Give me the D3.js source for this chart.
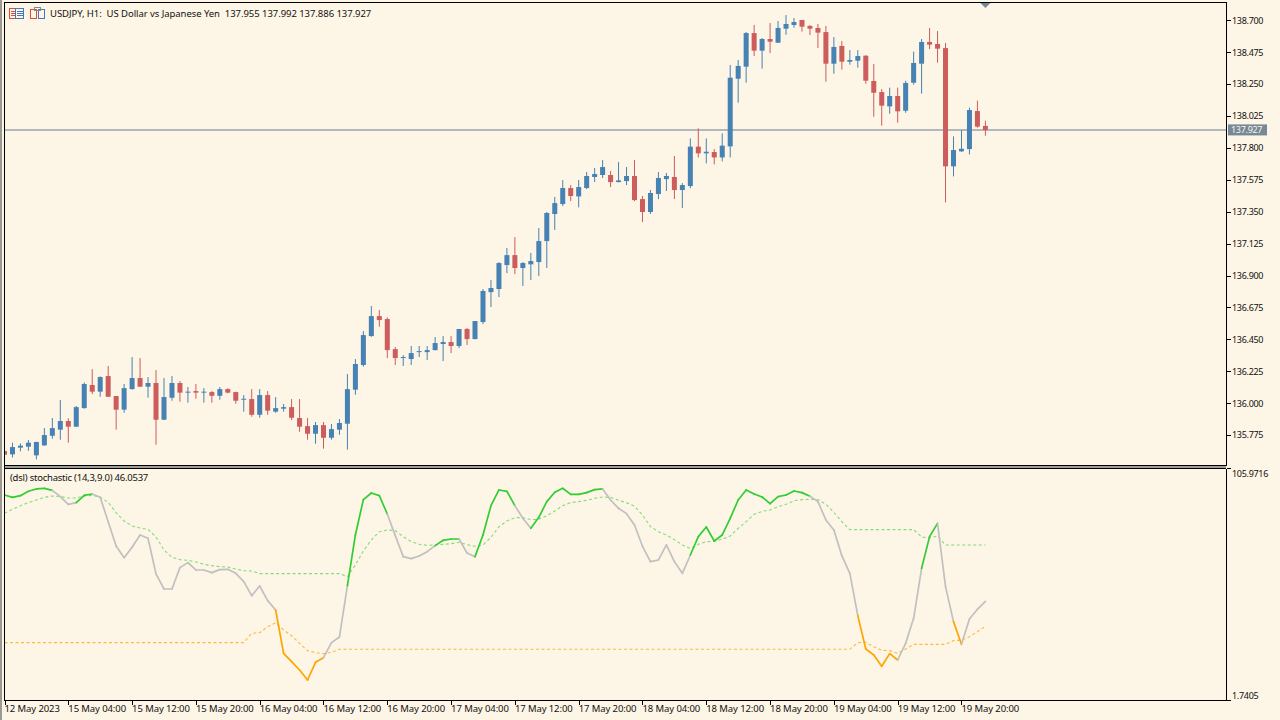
<!DOCTYPE html>
<html>
<head>
<meta charset="utf-8">
<title>USDJPY H1</title>
<script src="https://cdn.jsdelivr.net/npm/d3@7"></script>
<style>
    html, body { margin: 0; padding: 0; background: #fdf5e6; overflow: hidden; }
    text { font-family: "Noto Sans", sans-serif; font-size: 9.5px; fill: #111; white-space: pre; }
    .axis text, .tag { font-size: 9px; letter-spacing: -0.3px; }
    .axis path, .axis line { stroke: #000; shape-rendering: crispEdges; }
</style>
</head>
<body>
<script>
//candle values, one entry per hour bar
var opens = [
    135.662, 135.639, 135.686, 135.693, 135.632, 135.702, 135.770, 135.813, 135.874, 135.834,
    135.965, 136.128, 136.081, 136.191, 136.050, 135.954, 136.099, 136.177, 136.116, 136.142,
    135.883, 136.038, 136.142, 136.074, 136.085, 136.074, 136.078, 136.052, 136.099, 136.078,
    136.024, 136.029, 135.918, 136.057, 135.940, 135.961, 135.972, 135.895, 135.838, 135.784,
    135.845, 135.756, 135.813, 135.855, 136.095, 136.269, 136.473, 136.614, 136.593, 136.381,
    136.320, 136.311, 136.360, 136.360, 136.374, 136.417, 136.431, 136.403, 136.523, 136.452,
    136.572, 136.783, 136.805, 136.974, 137.044, 136.953, 136.979, 136.995, 137.143, 137.334,
    137.404, 137.517, 137.458, 137.517, 137.595, 137.609, 137.609, 137.559, 137.566, 137.602,
    137.439, 137.348, 137.475, 137.580, 137.595, 137.503, 137.531, 137.809, 137.762, 137.771,
    137.733, 137.811, 138.288, 138.373, 138.610, 138.486, 138.568, 138.542, 138.641, 138.667,
    138.702, 138.660, 138.646, 138.617, 138.394, 138.519, 138.408, 138.415, 138.450, 138.272,
    138.194, 138.093, 138.166, 138.062, 138.260, 138.394, 138.547, 138.533, 138.504, 137.670,
    137.776, 137.792, 138.060, 137.955
];
var highs = [
    135.665, 135.721, 135.716, 135.740, 135.728, 135.824, 135.895, 136.022, 135.893, 135.980,
    136.146, 136.240, 136.189, 136.262, 136.050, 136.135, 136.325, 136.318, 136.184, 136.233,
    136.177, 136.191, 136.156, 136.114, 136.135, 136.106, 136.085, 136.114, 136.106, 136.081,
    136.057, 136.099, 136.099, 136.085, 136.043, 135.994, 136.029, 136.029, 135.895, 135.867,
    135.867, 135.853, 135.888, 136.205, 136.311, 136.508, 136.685, 136.657, 136.605, 136.396,
    136.339, 136.403, 136.403, 136.403, 136.466, 136.473, 136.473, 136.523, 136.530, 136.579,
    136.805, 136.868, 136.995, 137.094, 137.171, 136.995, 137.059, 137.235, 137.348, 137.454,
    137.573, 137.538, 137.573, 137.630, 137.658, 137.714, 137.637, 137.700, 137.665, 137.714,
    137.461, 137.503, 137.630, 137.623, 137.743, 137.552, 137.867, 137.938, 137.867, 137.792,
    137.903, 138.385, 138.420, 138.617, 138.667, 138.575, 138.681, 138.695, 138.737, 138.716,
    138.702, 138.667, 138.674, 138.660, 138.582, 138.554, 138.490, 138.490, 138.455, 138.392,
    138.215, 138.225, 138.225, 138.274, 138.479, 138.568, 138.646, 138.624, 138.540, 137.881,
    137.926, 138.084, 138.133, 137.992
];
var lows = [
    135.630, 135.617, 135.660, 135.664, 135.603, 135.700, 135.749, 135.742, 135.721, 135.832,
    135.961, 136.064, 136.045, 136.043, 135.813, 135.932, 136.095, 136.114, 136.038, 135.707,
    135.881, 136.017, 136.010, 136.003, 136.031, 136.003, 136.003, 136.024, 136.069, 135.996,
    135.940, 135.904, 135.897, 135.918, 135.932, 135.940, 135.881, 135.798, 135.742, 135.714,
    135.679, 135.742, 135.777, 135.672, 136.059, 136.257, 136.468, 136.539, 136.318, 136.269,
    136.262, 136.269, 136.325, 136.304, 136.372, 136.297, 136.353, 136.388, 136.410, 136.450,
    136.558, 136.678, 136.748, 136.917, 136.910, 136.826, 136.868, 136.896, 136.953, 137.221,
    137.390, 137.425, 137.381, 137.510, 137.559, 137.588, 137.524, 137.557, 137.538, 137.425,
    137.277, 137.334, 137.439, 137.496, 137.439, 137.376, 137.515, 137.733, 137.691, 137.684,
    137.705, 137.733, 138.119, 138.260, 138.448, 138.359, 138.469, 138.540, 138.598, 138.648,
    138.620, 138.596, 138.504, 138.267, 138.323, 138.352, 138.387, 138.366, 138.253, 138.020,
    137.957, 138.041, 137.978, 138.048, 138.246, 138.182, 138.497, 138.401, 137.416, 137.599,
    137.771, 137.754, 137.943, 137.886
];
var closes = [
    135.636, 135.690, 135.700, 135.721, 135.726, 135.775, 135.824, 135.874, 135.834, 135.972,
    136.135, 136.081, 136.184, 136.045, 135.954, 136.106, 136.177, 136.116, 136.142, 135.883,
    136.043, 136.142, 136.074, 136.081, 136.074, 136.081, 136.052, 136.099, 136.074, 136.017,
    136.031, 135.918, 136.057, 135.947, 135.965, 135.972, 135.897, 135.834, 135.784, 135.845,
    135.756, 135.817, 135.860, 136.099, 136.276, 136.480, 136.614, 136.586, 136.374, 136.318,
    136.325, 136.353, 136.367, 136.374, 136.424, 136.431, 136.403, 136.523, 136.452, 136.579,
    136.791, 136.812, 136.988, 137.044, 136.953, 136.988, 137.002, 137.143, 137.341, 137.411,
    137.517, 137.461, 137.524, 137.602, 137.616, 137.665, 137.559, 137.571, 137.602, 137.432,
    137.348, 137.482, 137.588, 137.602, 137.503, 137.538, 137.809, 137.762, 137.773, 137.733,
    137.816, 138.295, 138.378, 138.610, 138.486, 138.568, 138.549, 138.646, 138.674, 138.688,
    138.655, 138.641, 138.613, 138.394, 138.512, 138.408, 138.420, 138.448, 138.274, 138.189,
    138.098, 138.166, 138.058, 138.258, 138.399, 138.547, 138.528, 138.500, 137.670, 137.785,
    137.794, 138.067, 137.950, 137.927
];

//stochastic line and its two discontinued signal levels
var stochMain = [
    93.85, 92.80, 93.55, 95.50, 96.55, 96.85, 95.95, 93.10, 89.66, 90.41,
    93.70, 94.30, 92.80, 81.87, 70.94, 65.69, 70.34, 75.88, 74.38, 58.36,
    51.62, 51.62, 61.20, 63.45, 60.15, 60.15, 58.95, 60.30, 60.45, 58.65,
    54.91, 48.62, 52.96, 46.37, 42.18, 22.71, 18.97, 15.22, 10.73, 18.67,
    20.76, 27.50, 30.05, 53.11, 75.88, 91.75, 94.75, 93.55, 85.31, 75.58,
    66.14, 65.24, 66.44, 68.39, 71.09, 73.48, 74.08, 74.08, 67.79, 66.14,
    75.88, 89.06, 96.10, 95.50, 89.06, 83.37, 78.87, 83.82, 90.86, 95.05,
    96.85, 94.15, 94.15, 94.90, 96.25, 96.55, 91.60, 87.86, 85.46, 80.37,
    70.79, 63.90, 64.65, 71.39, 63.90, 58.65, 66.89, 75.13, 79.47, 73.18,
    75.88, 83.37, 91.60, 96.10, 94.30, 92.95, 89.96, 93.10, 93.85, 95.65,
    94.90, 93.25, 90.86, 82.62, 78.12, 66.59, 58.65, 39.63, 24.66, 21.96,
    16.87, 22.56, 19.71, 27.20, 38.44, 60.90, 75.13, 81.12, 52.66, 36.94,
    26.75, 38.14, 42.48, 46.05
];
var levelUp = [
    85.61, 87.41, 89.06, 90.41, 91.60, 92.80, 93.40, 93.10, 92.50, 92.50,
    93.40, 93.70, 92.80, 90.56, 85.91, 82.17, 79.92, 79.02, 78.42, 74.98,
    69.14, 65.84, 64.80, 64.50, 63.75, 62.70, 62.10, 61.65, 61.50, 60.60,
    59.85, 59.70, 58.50, 58.50, 58.50, 58.50, 58.50, 58.50, 58.50, 58.50,
    58.50, 58.50, 58.50, 57.16, 62.40, 68.69, 73.63, 77.38, 78.12, 77.83,
    75.13, 72.88, 71.68, 71.24, 71.39, 71.68, 71.98, 72.58, 71.53, 70.79,
    71.39, 74.83, 79.62, 82.17, 83.67, 83.67, 82.77, 82.92, 84.56, 86.66,
    89.06, 90.41, 90.86, 91.45, 92.35, 92.95, 92.80, 91.45, 90.41, 88.76,
    84.86, 79.62, 77.38, 75.88, 73.78, 71.39, 69.89, 71.68, 72.88, 73.03,
    73.93, 75.43, 78.87, 81.87, 85.16, 86.51, 87.11, 88.61, 89.66, 91.30,
    91.75, 91.90, 91.75, 89.66, 86.06, 81.87, 78.27, 78.27, 78.27, 78.27,
    78.27, 78.27, 78.27, 78.27, 78.27, 74.98, 74.53, 75.43, 71.39, 71.39,
    71.39, 71.39, 71.39, 71.39
];
var levelDown = [
    27.50, 27.50, 27.50, 27.50, 27.50, 27.50, 27.50, 27.50, 27.50, 27.50,
    27.50, 27.50, 27.50, 27.50, 27.50, 27.50, 27.50, 27.50, 27.50, 27.50,
    27.50, 27.50, 27.50, 27.50, 27.50, 27.50, 27.50, 27.50, 27.50, 27.50,
    27.50, 31.70, 32.00, 34.69, 36.34, 33.19, 30.65, 27.20, 23.91, 23.01,
    22.56, 23.16, 24.51, 24.51, 24.51, 24.51, 24.51, 24.51, 24.51, 24.51,
    24.51, 24.51, 24.51, 24.51, 24.51, 24.51, 24.51, 24.51, 24.51, 24.51,
    24.51, 24.51, 24.51, 24.51, 24.51, 24.51, 24.51, 24.51, 24.51, 24.51,
    24.51, 24.51, 24.51, 24.51, 24.51, 24.51, 24.51, 24.51, 24.51, 24.51,
    24.51, 24.51, 24.51, 24.51, 24.51, 24.51, 24.51, 24.51, 24.51, 24.51,
    24.51, 24.51, 24.51, 24.51, 24.51, 24.51, 24.51, 24.51, 24.51, 24.51,
    24.51, 24.51, 24.51, 24.51, 24.51, 24.51, 24.51, 27.50, 27.65, 25.71,
    24.06, 23.91, 22.71, 24.66, 26.75, 26.75, 26.75, 26.75, 26.75, 28.40,
    28.70, 30.20, 32.44, 34.84
];

//axis labels
var priceTicks = [138.700, 138.475, 138.250, 138.025, 137.800, 137.575, 137.350, 137.125, 136.900, 136.675, 136.450, 136.225, 136.000, 135.775];
var stochTicks = [105.9716, 1.7405];
var timeIndex = [0, 8, 16, 24, 32, 40, 48, 56, 64, 72, 80, 88, 96, 104, 112, 120];
var timeLabels = [
    "12 May 2023", "15 May 04:00", "15 May 12:00", "15 May 20:00", "16 May 04:00", "16 May 12:00", "16 May 20:00", "17 May 04:00",
    "17 May 12:00", "17 May 20:00", "18 May 04:00", "18 May 12:00", "18 May 20:00", "19 May 04:00", "19 May 12:00", "19 May 20:00"
];
var lastPrice = 137.927;
var chartTitle = "USDJPY, H1:  US Dollar vs Japanese Yen  137.955 137.992 137.886 137.927";
var stochTitle = "(dsl) stochastic (14,3,9.0) 46.0537";

var width = 1280, height = 720;
var left = 4, right = 1226;
var upColor = "#4682b4", downColor = "#cd5c5c";

var svg = d3.select("body").append("svg")
    .attr("width", width)
    .attr("height", height)
    .style("display", "block");

svg.append("rect").attr("width", width).attr("height", height).attr("fill", "#fdf5e6");

//clip marks to each pane
var defs = svg.append("defs");
defs.append("clipPath").attr("id", "topClip").append("rect")
    .attr("x", left + 0.5).attr("y", 3).attr("width", right - left).attr("height", 462);
defs.append("clipPath").attr("id", "botClip").append("rect")
    .attr("x", left + 0.5).attr("y", 469).attr("width", right - left).attr("height", 231);

//scales
var x = d3.scaleLinear().domain([0, 123]).range([4.5, 985.4]);
var yPrice = d3.scaleLinear().domain([135.775, 138.700]).range([435.05, 20.3]);
var yStoch = d3.scaleLinear().domain([1.7405, 105.9716]).range([700, 468]);

var candles = d3.range(opens.length).map(function(i) {
    return { i: i, o: opens[i], h: highs[i], l: lows[i], c: closes[i] };
});

//last price line
var topPane = svg.append("g").attr("clip-path", "url(#topClip)");

topPane.append("line")
    .attr("x1", left).attr("x2", right)
    .attr("y1", yPrice(lastPrice)).attr("y2", yPrice(lastPrice))
    .attr("stroke", "#9aa3ad")
    .attr("stroke-width", 1.5);

//candle wicks
topPane.selectAll(".wick")
    .data(candles)
    .enter()
    .append("line")
    .attr("class", "wick")
    .attr("x1", function(d) { return x(d.i); })
    .attr("x2", function(d) { return x(d.i); })
    .attr("y1", function(d) { return yPrice(d.h); })
    .attr("y2", function(d) { return yPrice(d.l); })
    .attr("stroke", function(d) { return d.c >= d.o ? upColor : downColor; })
    .attr("stroke-width", 1);

//candle bodies
topPane.selectAll(".body")
    .data(candles)
    .enter()
    .append("rect")
    .attr("class", "body")
    .attr("x", function(d) { return x(d.i) - 2.5; })
    .attr("width", 5)
    .attr("y", function(d) { return yPrice(Math.max(d.o, d.c)); })
    .attr("height", function(d) { return Math.max(1, Math.abs(yPrice(d.o) - yPrice(d.c))); })
    .attr("fill", function(d) { return d.c >= d.o ? upColor : downColor; });

//stochastic pane
var botPane = svg.append("g").attr("clip-path", "url(#botClip)");

var line = d3.line()
    .x(function(d) { return x(d.i); })
    .y(function(d) { return yStoch(d.v); });

function series(values) {
    return values.map(function(v, i) { return { i: i, v: v }; });
}

botPane.append("path")
    .datum(series(levelUp))
    .attr("d", line)
    .attr("fill", "none")
    .attr("stroke", "#32cd32")
    .attr("stroke-opacity", 0.6)
    .attr("stroke-width", 1.1)
    .attr("stroke-dasharray", "3,2.5");

botPane.append("path")
    .datum(series(levelDown))
    .attr("d", line)
    .attr("fill", "none")
    .attr("stroke", "#ffa500")
    .attr("stroke-opacity", 0.75)
    .attr("stroke-width", 1.1)
    .attr("stroke-dasharray", "3,2.5");

//main line, each segment takes the colour of the state at its end
function stateColor(i) {
    if (stochMain[i] > levelUp[i]) return "#32cd32";
    if (stochMain[i] < levelDown[i]) return "#ffa500";
    return "#c0c0c0";
}

botPane.selectAll(".segment")
    .data(d3.range(1, stochMain.length))
    .enter()
    .append("path")
    .attr("class", "segment")
    .attr("d", function(i) {
        return line([{ i: i - 1, v: stochMain[i - 1] }, { i: i, v: stochMain[i] }]);
    })
    .attr("fill", "none")
    .attr("stroke", stateColor)
    .attr("stroke-linecap", "round")
    .attr("stroke-width", 1.7);

//pane borders, grey window edges first
svg.append("rect").attr("x", 0).attr("y", 0).attr("width", 2).attr("height", height).attr("fill", "#9c9a94");
svg.append("rect").attr("x", 4).attr("y", 466).attr("width", right - 4).attr("height", 2).attr("fill", "#a09e98");

var border = svg.append("g").attr("stroke", "#000").attr("fill", "none").style("shape-rendering", "crispEdges");
border.append("path").attr("d", d3.line()([[right + 0.5, 2.5], [left + 0.5, 2.5], [left + 0.5, 700.5], [right + 0.5, 700.5]]));
border.append("line").attr("x1", left).attr("x2", right).attr("y1", 465.5).attr("y2", 465.5);
border.append("line").attr("x1", left).attr("x2", right).attr("y1", 468.5).attr("y2", 468.5);

//price axis
var priceAxis = svg.append("g")
    .attr("class", "axis")
    .attr("transform", "translate(" + (right + 0.5) + ",0)")
    .call(d3.axisRight(yPrice).tickValues(priceTicks).tickSize(4).tickPadding(1.5).tickFormat(d3.format(".3f")));
priceAxis.select(".domain").attr("d", "M0,2.5V465.5");

//stochastic axis, outer labels sit inside the pane
var stochAxis = svg.append("g")
    .attr("class", "axis")
    .attr("transform", "translate(" + (right + 0.5) + ",0)")
    .call(d3.axisRight(yStoch).tickValues(stochTicks).tickSize(4).tickPadding(1.5).tickFormat(d3.format(".4f")));
stochAxis.select(".domain").attr("d", "M0,468.5V700.5");
stochAxis.selectAll("text").attr("dy", function(d) { return d > 50 ? "0.95em" : "-0.15em"; });

//time axis
var timeAxis = svg.append("g")
    .attr("class", "axis")
    .attr("transform", "translate(0,700.5)")
    .call(d3.axisBottom(x).tickValues(timeIndex).tickSize(4).tickPadding(1).tickFormat(function(d, i) { return timeLabels[i]; }));
timeAxis.select(".domain").remove();
timeAxis.selectAll("text").attr("text-anchor", "start").attr("dx", "-0.5").style("font-size", "9.5px").style("letter-spacing", "-0.1px");

//last price tag
svg.append("rect")
    .attr("x", right + 2).attr("y", yPrice(lastPrice) - 5.5)
    .attr("width", 39).attr("height", 11)
    .attr("fill", "#778899");
svg.append("text")
    .attr("class", "tag")
    .attr("x", right + 5).attr("y", yPrice(lastPrice) + 3.5)
    .style("fill", "#fdf5e6")
    .text(d3.format(".3f")(lastPrice));

//little marker above the last bar
svg.append("path")
    .attr("d", d3.line()([[x(123) - 5, 3], [x(123) + 5, 3], [x(123), 8]]))
    .attr("fill", "#778899");

//pane titles
svg.append("text").attr("x", 50).attr("y", 17).style("letter-spacing", "-0.05px").text(chartTitle);
svg.append("text").attr("x", 10).attr("y", 481).style("letter-spacing", "-0.23px").text(stochTitle);

//toolbar icons in the title row
var listIcon = svg.append("g").attr("fill", "none").style("shape-rendering", "crispEdges");
listIcon.append("rect").attr("x", 9.5).attr("y", 8.5).attr("width", 6).attr("height", 9.5).attr("stroke", "#e04a3a");
listIcon.append("rect").attr("x", 15.5).attr("y", 8.5).attr("width", 8).attr("height", 9.5).attr("stroke", "#3f78c8");
[11.5, 13.5, 15.5].forEach(function(yy) {
    listIcon.append("line").attr("x1", 11).attr("x2", 15).attr("y1", yy).attr("y2", yy).attr("stroke", "#e04a3a");
    listIcon.append("line").attr("x1", 17).attr("x2", 23).attr("y1", yy).attr("y2", yy).attr("stroke", "#3f78c8");
});
var barIcon = svg.append("g").attr("fill", "none").style("shape-rendering", "crispEdges");
barIcon.append("rect").attr("x", 30.5).attr("y", 9.5).attr("width", 6).attr("height", 9).attr("stroke", "#e04a3a");
barIcon.append("rect").attr("x", 38.5).attr("y", 9.5).attr("width", 6).attr("height", 9).attr("stroke", "#3f78c8");
barIcon.append("rect").attr("x", 34.5).attr("y", 7.5).attr("width", 6).attr("height", 3).attr("stroke", "#888");
</script>
</body>
</html>
